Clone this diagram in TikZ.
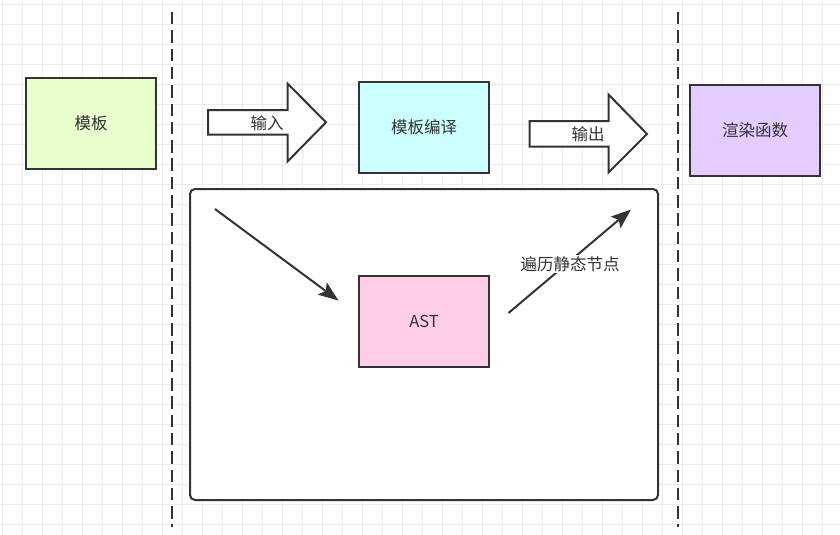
\documentclass[tikz,border=0pt]{standalone}
\usepackage{fontspec}
\setmainfont{Noto Sans CJK SC}
\usetikzlibrary{arrows.meta}
\definecolor{ink}{HTML}{333333}
\definecolor{gridc}{HTML}{EBEBEB}
\definecolor{gridd}{HTML}{E0E0E0}
\definecolor{fgreen}{HTML}{E6FFCC}
\definecolor{fcyan}{HTML}{CCFFFF}
\definecolor{fpurple}{HTML}{E5CCFF}
\definecolor{fpink}{HTML}{FFCCE6}
\tikzset{
  box/.style={draw=ink, line width=2pt, minimum width=130pt, minimum height=91pt, inner sep=0pt, text=ink, font=\fontsize{16.5}{20}\selectfont},
  lbl/.style={text=ink, font=\fontsize{16.5}{20}\selectfont, inner sep=1pt},
  blockarrow/.style={draw=ink, line width=2pt, fill=white, line join=miter},
  divider/.style={draw=ink, line width=2.5pt, dash pattern=on 12.5pt off 5.8pt},
  linkarrow/.style={draw=ink, line width=2pt, -{Stealth[length=20pt, width=15pt, inset=4pt]}},
}
\begin{document}
\begin{tikzpicture}[x=1pt, y=-1pt]
\useasboundingbox (0,0) rectangle (840,535);
\fill[white] (0,0) rectangle (840,535);
% grid
\foreach \gx in {2,22,...,842} \draw[gridc, line width=0.8pt] (\gx,0) -- (\gx,535);
\foreach \gy in {4,24,...,534} \draw[gridc, line width=0.8pt] (0,\gy) -- (840,\gy);
% dividers
\coordinate (d1a) at (172,12); \coordinate (d1b) at (172,527);
\coordinate (d2a) at (678,12); \coordinate (d2b) at (678,527);
\draw[divider] (d1a) -- (d1b);
\draw[divider] (d2a) -- (d2b);
% big container
\node[draw=ink, line width=2pt, fill=white, rounded corners=5pt, minimum width=468pt, minimum height=311pt, inner sep=0pt] (frame) at (424,344.5) {};
% boxes
\node[box, fill=fgreen] (tpl) at (91,123.5) {模板};
\node[box, fill=fcyan] (comp) at (424,127.5) {模板编译};
\node[box, fill=fpurple] (render) at (755,130.5) {渲染函数};
\node[box, fill=fpink] (ast) at (424,321.5) {AST};
% block arrows
\draw[blockarrow] (208,110) -- (287.5,110) -- (287.5,83.5) -- (326,122.3) -- (287.5,161.5) -- (287.5,134.5) -- (208,134.5) -- cycle;
\node[lbl] (in) at (267,123) {输入};
\draw[blockarrow] (529.5,121) -- (608.5,121) -- (608.5,94.5) -- (647,134) -- (608.5,172.5) -- (608.5,146.5) -- (529.5,146.5) -- cycle;
\node[lbl] (out) at (588,134) {输出};
% link arrows
\coordinate (s1) at (215,209);
\coordinate (e1) at (338.5,300.5);
\draw[linkarrow] (s1) -- (e1);
\coordinate (s2) at (508.5,313);
\coordinate (e2) at (631,209.5);
\draw[linkarrow] (s2) -- (e2);
\node[lbl, fill=white] (trav) at (570,264) {遍历静态节点};
\end{tikzpicture}
\end{document}
